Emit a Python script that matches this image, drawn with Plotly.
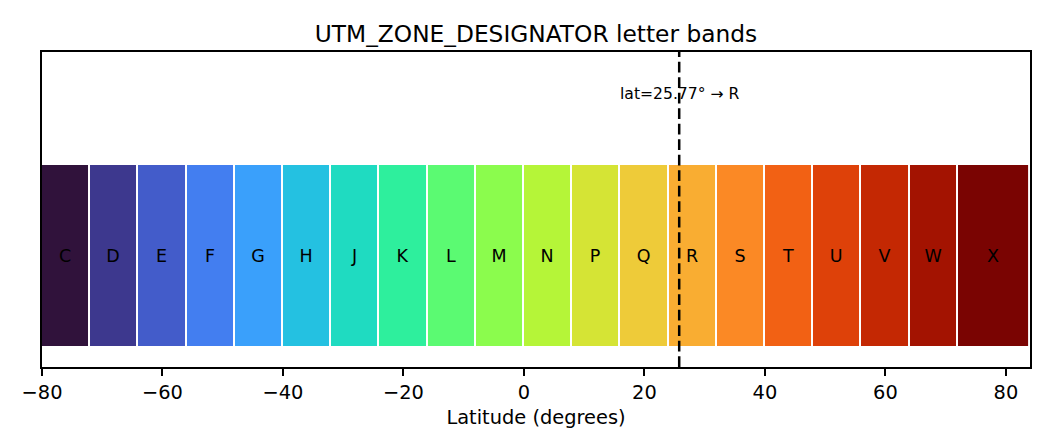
import plotly.graph_objects as go
from plotly.colors import sample_colorscale

letters = ["C", "D", "E", "F", "G", "H", "J", "K", "L", "M",
           "N", "P", "Q", "R", "S", "T", "U", "V", "W", "X"]
band_south = [-80, -72, -64, -56, -48, -40, -32, -24, -16, -8,
              0, 8, 16, 24, 32, 40, 48, 56, 64, 72]
band_north = [-72, -64, -56, -48, -40, -32, -24, -16, -8, 0,
              8, 16, 24, 32, 40, 48, 56, 64, 72, 84]
query_lat = 25.77
query_letter = "R"
xticks = [-80, -60, -40, -20, 0, 20, 40, 60, 80]

n = len(letters)
centers = [(s + e) / 2 for s, e in zip(band_south, band_north)]
widths = [e - s for s, e in zip(band_south, band_north)]
colors = sample_colorscale("Turbo", [i / (n - 1) for i in range(n)])

font = "DejaVu Sans, Liberation Sans, sans-serif"

# page body adds a small margin; figure is sized to compensate
W, H = 1042, 440

fig = go.Figure()
fig.add_trace(go.Bar(
    x=centers, y=[1] * n, width=widths, base=0,
    marker=dict(color=colors, line=dict(color="white", width=1.9)),
    text=letters, textposition="inside", insidetextanchor="middle",
    textangle=0, textfont=dict(color="black", size=17.5, family=font),
    hoverinfo="skip", showlegend=False,
))
fig.add_shape(type="line", xref="x", yref="paper", x0=query_lat, x1=query_lat,
              y0=0, y1=1, line=dict(color="black", width=2.5, dash="10.8px,4.7px"))
fig.add_annotation(x=query_lat, y=1.39, xref="x", yref="y",
                   text=f"lat={query_lat}° → {query_letter}", showarrow=False,
                   font=dict(size=15.6, color="black", family=font))

fig.update_layout(
    width=W, height=H,
    margin=dict(l=34, r=20, t=44, b=81, pad=0),
    paper_bgcolor="white", plot_bgcolor="white",
    title=dict(text="UTM_ZONE_DESIGNATOR letter bands", x=0.5, xref="paper",
               xanchor="center", y=1 - 26 / H, yanchor="middle",
               font=dict(size=23.3, color="black", family=font)),
    font=dict(family=font, color="black"),
    bargap=0,
    xaxis=dict(range=[-80, 84], tickmode="array", tickvals=xticks,
               ticks="outside", ticklen=6.8, tickwidth=1.5, tickcolor="black",
               showline=True, linecolor="black", linewidth=1.5, mirror=True,
               showgrid=False, zeroline=False,
               tickfont=dict(size=19.4, color="black", family=font),
               title=dict(text="Latitude (degrees)", standoff=8,
                          font=dict(size=19.4, color="black", family=font))),
    yaxis=dict(range=[-0.104, 1.617], showticklabels=False, ticks="",
               showline=True, linecolor="black", linewidth=1.5, mirror=True,
               showgrid=False, zeroline=False),
)

fig.write_html("out.html")
